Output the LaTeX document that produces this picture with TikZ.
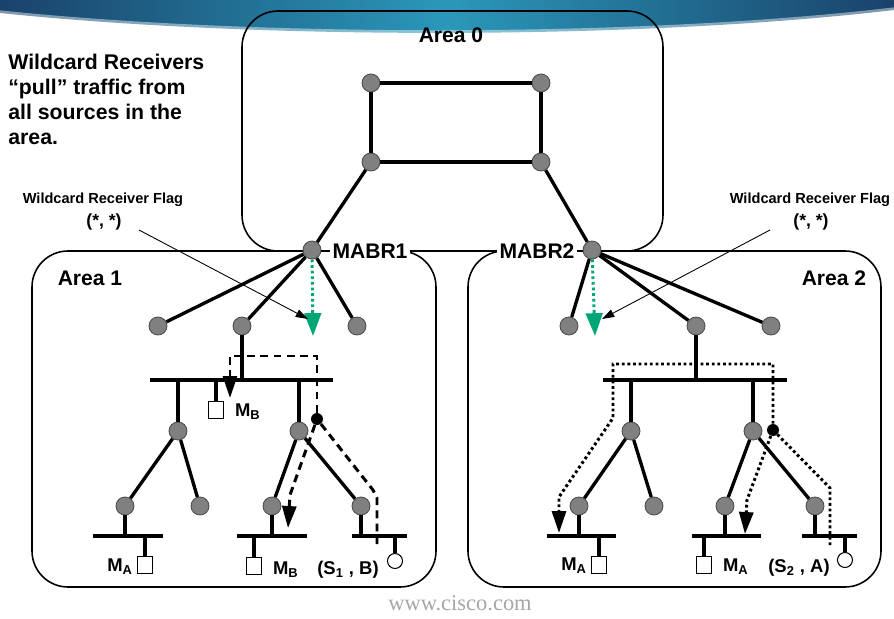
\documentclass[tikz,border=0pt]{standalone}
\usepackage{fontspec}
\setmainfont{Liberation Sans}
\newfontfamily\webfont{Liberation Serif}
\usetikzlibrary{arrows.meta}

\definecolor{routergray}{RGB}{128,128,128}
\definecolor{flaggreen}{RGB}{0,166,118}
\definecolor{bannerdark}{RGB}{26,66,106}
\definecolor{bannerlight}{RGB}{42,152,186}

\tikzset{
  router/.style={circle, draw=black!70, line width=0.5pt, fill=routergray, minimum size=0.36cm, inner sep=0pt},
  host/.style={rectangle, draw, fill=white, line width=0.6pt, minimum width=0.31cm, minimum height=0.33cm, inner sep=0pt},
  source/.style={circle, draw, fill=white, line width=0.6pt, minimum size=0.3cm, inner sep=0pt},
  joint/.style={circle, fill=black, minimum size=0.24cm, inner sep=0pt},
  link/.style={line width=1.9pt},
  lan/.style={line width=2pt},
  area/.style={draw, line width=0.9pt, rounded corners=0.72cm},
  arealabel/.style={font=\fontsize{12}{14}\selectfont\bfseries, inner sep=1.5pt},
  hostlabel/.style={font=\fontsize{10.5}{12}\selectfont\bfseries, inner sep=1pt},
  sharedtree/.style={line width=1.7pt, dash pattern=on 4.5pt off 3pt},
  sourcetree/.style={line width=1.7pt, dash pattern=on 1.6pt off 1.6pt},
  joinarrow/.style={-{Triangle[width=8pt,length=12.5pt]}},
  wcflag/.style={flaggreen, line width=1.7pt, dash pattern=on 1.6pt off 1.6pt, -{Triangle[width=9.5pt,length=13pt]}},
  leader/.style={line width=0.5pt, -{Triangle[width=4.5pt,length=7pt]}}
}

\begin{document}
\begin{tikzpicture}[x=0.02cm, y=-0.02cm]
  \useasboundingbox (0,0) rectangle (894,619);

  % Banner along the top edge, with a soft lower rim
  \shade[left color=bannerdark, right color=bannerdark, middle color=bannerlight]
    (0,0) -- (894,0) -- (894,10) .. controls (640,40) and (260,40) .. (0,13) -- cycle;
  \draw[white, opacity=0.45, line width=3pt]
    (894,10) .. controls (640,40) and (260,40) .. (0,13);

  % The three areas
  \draw[area] (242,11) rectangle (663,251);
  \draw[area] (32,251) rectangle (436,587);
  \draw[area] (468,251) rectangle (881,587);
  \node[arealabel] (lab0) at (451,35) {Area 0};
  \node[arealabel] (lab1) at (90,278) {Area 1};
  \node[arealabel] (lab2) at (834,278) {Area 2};

  % Side note
  \node[anchor=north west, align=left, inner sep=0pt, font=\fontsize{12.1}{14.2}\selectfont\bfseries]
    (note) at (8,54) {Wildcard Receivers\\“pull” traffic from\\all sources in the\\area.};

  % Backbone routers
  \node[router] (c1) at (371,83) {};
  \node[router] (c2) at (541,83) {};
  \node[router] (c3) at (371,162) {};
  \node[router] (c4) at (541,162) {};
  \node[router] (mabr1) at (312,250) {};
  \node[router] (mabr2) at (592,250) {};
  \node[arealabel, fill=white] (mabr1txt) at (370,251) {MABR1};
  \node[arealabel, fill=white] (mabr2txt) at (537,251) {MABR2};
  \draw[link] (c1) -- (c2) -- (c4) -- (c3) -- (c1);
  \draw[link] (c3) -- (mabr1);
  \draw[link] (c4) -- (mabr2);

  % Area 1 routers
  \node[router] (a1) at (158,326) {};
  \node[router] (a2) at (242,326) {};
  \node[router] (a3) at (357,326) {};
  \node[router] (a4) at (178,431) {};
  \node[router] (a5) at (299,431) {};
  \node[router] (a6) at (125,506) {};
  \node[router] (a7) at (200,506) {};
  \node[router] (a8) at (272,506) {};
  \node[router] (a9) at (361,506) {};
  \draw[link] (mabr1) -- (a1);
  \draw[link] (mabr1) -- (a2);
  \draw[link] (mabr1) -- (a3);
  \draw[link] (a4) -- (a6);
  \draw[link] (a4) -- (a7);
  \draw[link] (a5) -- (a8);
  \draw[link] (a5) -- (a9);

  % Area 1 LANs and hosts
  \coordinate (lan1w) at (150,380);
  \coordinate (lan1e) at (333,380);
  \coordinate (lan2w) at (93,536);
  \coordinate (lan2e) at (163,536);
  \coordinate (lan3w) at (237,536);
  \coordinate (lan3e) at (307,536);
  \coordinate (lan4w) at (352,536);
  \coordinate (lan4e) at (407,536);
  \draw[lan] (lan1w) -- (lan1e);
  \draw[lan] (lan2w) -- (lan2e);
  \draw[lan] (lan3w) -- (lan3e);
  \draw[lan] (lan4w) -- (lan4e);
  \node[host] (hb1) at (216,410) {};
  \node[host] (ha1) at (145,565) {};
  \node[host] (hb2) at (254,566) {};
  \node[source] (src1) at (395,561) {};
  \draw[link] (a2) -- (a2 |- lan1w);
  \draw[link] (a4) -- (a4 |- lan1w);
  \draw[link] (a5) -- (a5 |- lan1w);
  \draw[link] (hb1) -- (hb1 |- lan1w);
  \draw[link] (a6) -- (a6 |- lan2w);
  \draw[link] (ha1) -- (ha1 |- lan2w);
  \draw[link] (a8) -- (a8 |- lan3w);
  \draw[link] (hb2) -- (hb2 |- lan3w);
  \draw[link] (a9) -- (a9 |- lan4w);
  \draw[link] (src1) -- (src1 |- lan4w);
  \node[hostlabel, anchor=west] (mb1) at (233,412) {M\textsubscript{B}};
  \node[hostlabel, anchor=east] (ma1) at (135,567) {M\textsubscript{A}};
  \node[hostlabel, anchor=west] (mb2) at (271,570) {M\textsubscript{B}};
  \node[hostlabel] (sb) at (348,570) {(S\textsubscript{1} , B)};

  % Area 2 routers
  \node[router] (b1) at (569,326) {};
  \node[router] (b2) at (696,326) {};
  \node[router] (b3) at (771,326) {};
  \node[router] (b4) at (631,431) {};
  \node[router] (b5) at (753,431) {};
  \node[router] (b6) at (579,506) {};
  \node[router] (b7) at (654,506) {};
  \node[router] (b8) at (725,506) {};
  \node[router] (b9) at (815,506) {};
  \draw[link] (mabr2) -- (b1);
  \draw[link] (mabr2) -- (b2);
  \draw[link] (mabr2) -- (b3);
  \draw[link] (b4) -- (b6);
  \draw[link] (b4) -- (b7);
  \draw[link] (b5) -- (b8);
  \draw[link] (b5) -- (b9);

  % Area 2 LANs and hosts
  \coordinate (lan5w) at (603,380);
  \coordinate (lan5e) at (787,380);
  \coordinate (lan6w) at (547,536);
  \coordinate (lan6e) at (616,536);
  \coordinate (lan7w) at (692,536);
  \coordinate (lan7e) at (761,536);
  \coordinate (lan8w) at (802,536);
  \coordinate (lan8e) at (857,536);
  \draw[lan] (lan5w) -- (lan5e);
  \draw[lan] (lan6w) -- (lan6e);
  \draw[lan] (lan7w) -- (lan7e);
  \draw[lan] (lan8w) -- (lan8e);
  \node[host] (ha2) at (599,565) {};
  \node[host] (ha3) at (704,565) {};
  \node[source] (src2) at (845,560) {};
  \draw[link] (b2) -- (b2 |- lan5w);
  \draw[link] (b4) -- (b4 |- lan5w);
  \draw[link] (b5) -- (b5 |- lan5w);
  \draw[link] (b6) -- (b6 |- lan6w);
  \draw[link] (ha2) -- (ha2 |- lan6w);
  \draw[link] (b8) -- (b8 |- lan7w);
  \draw[link] (ha3) -- (ha3 |- lan7w);
  \draw[link] (b9) -- (b9 |- lan8w);
  \draw[link] (src2) -- (src2 |- lan8w);
  \node[hostlabel, anchor=east] (ma2) at (589,566) {M\textsubscript{A}};
  \node[hostlabel, anchor=west] (ma3) at (721,567) {M\textsubscript{A}};
  \node[hostlabel] (sa) at (799,568) {(S\textsubscript{2} , A)};

  % Wildcard receiver flags on the border routers
  \coordinate (flag1) at (313,336);
  \coordinate (flag2) at (595,336);
  \draw[wcflag] (mabr1) -- (flag1);
  \draw[wcflag] (mabr2) -- (flag2);
  \node[font=\fontsize{8.3}{10}\selectfont\bfseries] (flagtxt1) at (103,200) {Wildcard Receiver Flag};
  \node[font=\fontsize{10}{12}\selectfont\bfseries] (flagstar1) at (104,222) {(*, *)};
  \node[font=\fontsize{8.3}{10}\selectfont\bfseries] (flagtxt2) at (810,200) {Wildcard Receiver Flag};
  \node[font=\fontsize{10}{12}\selectfont\bfseries] (flagstar2) at (811,222) {(*, *)};
  \coordinate (lead1) at (139,230);
  \coordinate (lead1end) at (308,319);
  \coordinate (lead2) at (770,230);
  \coordinate (lead2end) at (602,319);
  \draw[leader] (lead1) -- (lead1end);
  \draw[leader] (lead2) -- (lead2end);

  % Traffic pulled in Area 1 (dashed)
  \node[joint] (dot1) at (317,419) {};
  \coordinate (j1a) at (317,356);
  \coordinate (j1b) at (230,356);
  \coordinate (j1c) at (290,495);
  \coordinate (j1d) at (373,490);
  \coordinate (j1e) at (377,498);
  \coordinate (rcv1) at (230,398);
  \coordinate (rcv2) at (288,528);
  \coordinate (tail1) at (377,544);
  \draw[sharedtree, joinarrow] (dot1) -- (j1a) -- (j1b) -- (rcv1);
  \draw[sharedtree, joinarrow] (dot1) -- (j1c) -- (rcv2);
  \draw[sharedtree] (dot1) -- (j1d) -- (j1e) -- (tail1);

  % Traffic pulled in Area 2 (dotted)
  \node[joint] (dot2) at (773,430) {};
  \coordinate (j2a) at (773,364);
  \coordinate (j2b) at (613,364);
  \coordinate (j2c) at (613,418);
  \coordinate (j2d) at (559,497);
  \coordinate (j2e) at (747,500);
  \coordinate (j2f) at (830,488);
  \coordinate (rcv3) at (559,533);
  \coordinate (rcv4) at (745,534);
  \coordinate (tail2) at (830,547);
  \draw[sourcetree, joinarrow] (dot2) -- (j2a) -- (j2b) -- (j2c) -- (j2d) -- (rcv3);
  \draw[sourcetree, joinarrow] (dot2) -- (j2e) -- (rcv4);
  \draw[sourcetree] (dot2) -- (j2f) -- (tail2);

  % Footer
  \node[font=\webfont\fontsize{12.8}{14}\selectfont, text=black!35] (www) at (460,603) {www.cisco.com};
\end{tikzpicture}
\end{document}
